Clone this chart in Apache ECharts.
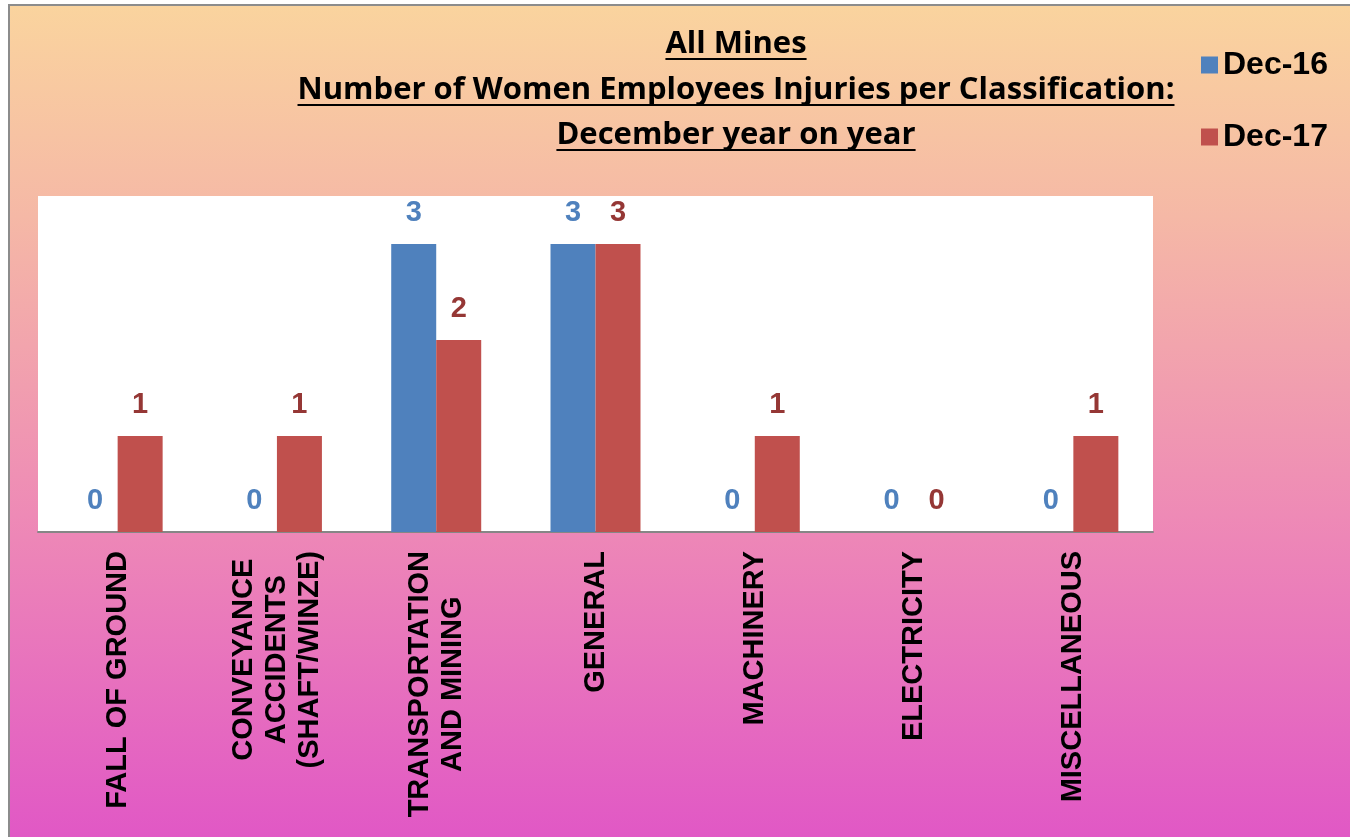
<!DOCTYPE html>
<html>
<head>
<meta charset="utf-8">
<script src="https://cdn.jsdelivr.net/npm/echarts@6/dist/echarts.min.js"></script>
<style>
html, body { margin: 0; padding: 0; background: #fff; }
#chart { width: 1350px; height: 837px; }
</style>
</head>
<body>
<div id="chart"></div>
<script>
// 分类与数据
var categories = ['FALL OF GROUND', 'CONVEYANCE\nACCIDENTS\n(SHAFT/WINZE)', 'TRANSPORTATION\nAND MINING', 'GENERAL', 'MACHINERY', 'ELECTRICITY', 'MISCELLANEOUS'];
var dec16 = [0, 0, 3, 3, 0, 0, 0];
var dec17 = [1, 1, 2, 3, 1, 0, 1];
var seriesNames = ['Dec-16', 'Dec-17'];
var titleLines = ['All Mines', 'Number of Women Employees Injuries per Classification:', 'December year on year'];

var chart = echarts.init(document.getElementById('chart'));

var titleFont = 'bold 31px "Open Sans"';
var ctx = document.createElement('canvas').getContext('2d');

/**
 * 标题文字及下划线
 */
function buildTitle() {
    var items = [];
    var baselines = [54, 100, 145];
    ctx.font = titleFont;
    for (var i = 0; i < titleLines.length; i++) {
        var w = ctx.measureText(titleLines[i]).width;
        items.push({
            type: 'text',
            left: 736 - w / 2,
            top: baselines[i] - 25,
            style: { text: titleLines[i], font: titleFont, fill: '#000' }
        });
        items.push({
            type: 'line',
            shape: { x1: 736 - w / 2, y1: baselines[i] + 5, x2: 736 + w / 2, y2: baselines[i] + 5 },
            style: { stroke: '#000', lineWidth: 2 }
        });
    }
    return items;
}

var labelRich = { a: { align: 'center', lineHeight: 33, fontSize: 29, fontWeight: 'bold', fontFamily: 'Liberation Sans', color: '#000' } };

var option = {
    animation: false,
    graphic: [{
        type: 'rect',
        z: -10,
        shape: { x: 9, y: 5, width: 1360, height: 850 },
        style: {
            fill: new echarts.graphic.LinearGradient(0, 0, 0, 1, [
                { offset: 0, color: '#FAD49E' },
                { offset: 0.25, color: '#F5B8A6' },
                { offset: 0.6, color: '#EE8AB6' },
                { offset: 1, color: '#E055C6' }
            ]),
            stroke: '#8C8C8C',
            lineWidth: 2
        }
    }].concat(buildTitle()),
    legend: {
        orient: 'vertical',
        left: 1196,
        top: 44,
        itemWidth: 17,
        itemHeight: 17,
        itemGap: 40,
        icon: 'rect',
        textStyle: { fontSize: 32, fontWeight: 'bold', fontFamily: 'Liberation Sans', color: '#000' },
        data: seriesNames
    },
    grid: {
        left: 38,
        top: 196,
        right: 197,
        bottom: 305,
        show: true,
        backgroundColor: '#fff',
        borderWidth: 0
    },
    xAxis: {
        type: 'category',
        data: categories,
        axisLine: { lineStyle: { color: '#868686', width: 2 } },
        axisTick: { show: false },
        axisLabel: {
            rotate: 90,
            margin: 19,
            interval: 0,
            formatter: function(value) {
                return value.split('\n').map(function(s) { return '{a|' + s + '}'; }).join('\n');
            },
            rich: labelRich
        }
    },
    yAxis: {
        type: 'value',
        min: 0,
        max: 3.5,
        show: false,
        splitLine: { show: false }
    },
    series: [{
        name: seriesNames[0],
        type: 'bar',
        data: dec16,
        barGap: '0%',
        barCategoryGap: '43.5%',
        itemStyle: { color: '#4F81BD' },
        label: {
            show: true,
            position: 'top',
            distance: 17,
            fontSize: 29,
            fontWeight: 'bold',
            fontFamily: 'Liberation Sans',
            color: '#4F81BD'
        }
    }, {
        name: seriesNames[1],
        type: 'bar',
        data: dec17,
        barGap: '0%',
        barCategoryGap: '43.5%',
        itemStyle: { color: '#C0504D' },
        label: {
            show: true,
            position: 'top',
            distance: 17,
            fontSize: 29,
            fontWeight: 'bold',
            fontFamily: 'Liberation Sans',
            color: '#953735'
        }
    }]
};
chart.setOption(option);
</script>
</body>
</html>
